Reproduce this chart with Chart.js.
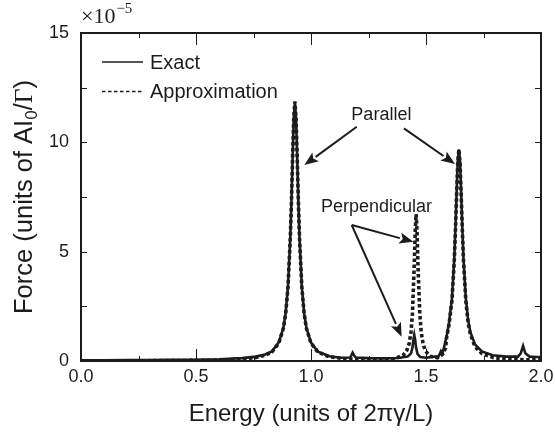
<!DOCTYPE html>
<html lang="en">
  <head>
    <meta charset="utf-8">
    <title>Force spectrum</title>
    <script src="https://cdn.jsdelivr.net/npm/chart.js@4.4.1/dist/chart.umd.min.js"></script>
    <style>
      html, body { margin: 0; padding: 0; background: #fff; }
    </style>
  </head>
  <body>
    <canvas id="myChart" width="555" height="433"></canvas>
    <script>
      // exact force (x 1e-5), energy in units of 2*pi*gamma/L
      const energyExact = [
        0.00, 0.10, 0.20, 0.30, 0.40, 0.50, 0.60, 0.70, 0.76, 0.80,
        0.83, 0.86, 0.88, 0.89, 0.90, 0.91, 0.915, 0.92, 0.925, 0.93,
        0.935, 0.94, 0.945, 0.95, 0.96, 0.97, 0.98, 1.00, 1.03, 1.08,
        1.13, 1.17, 1.175, 1.181, 1.187, 1.195, 1.25, 1.32, 1.38, 1.42,
        1.435, 1.441, 1.445, 1.449, 1.453, 1.457, 1.463, 1.475, 1.50, 1.54,
        1.555, 1.565, 1.572, 1.58, 1.59, 1.60, 1.613, 1.623, 1.628, 1.633,
        1.638, 1.643, 1.648, 1.653, 1.658, 1.663, 1.673, 1.683, 1.693, 1.713,
        1.743, 1.79, 1.85, 1.90, 1.912, 1.922, 1.932, 1.95, 1.98, 2.00
      ];
      const forceExact = [
        0.03, 0.03, 0.04, 0.04, 0.05, 0.06, 0.08, 0.13, 0.20, 0.30,
        0.44, 0.85, 1.52, 2.20, 3.42, 5.65, 7.30, 9.29, 11.09, 11.86,
        11.09, 9.29, 7.31, 5.65, 3.42, 2.20, 1.52, 0.84, 0.43, 0.22,
        0.15, 0.16, 0.25, 0.38, 0.26, 0.16, 0.13, 0.12, 0.14, 0.20,
        0.35, 0.60, 0.95, 1.19, 0.95, 0.60, 0.33, 0.18, 0.15, 0.20,
        0.22, 0.45, 0.35, 0.70, 1.15, 1.75, 2.87, 4.70, 6.07, 7.68,
        9.15, 9.68, 9.15, 7.68, 6.07, 4.70, 2.87, 1.88, 1.32, 0.76,
        0.44, 0.26, 0.20, 0.20, 0.35, 0.69, 0.35, 0.20, 0.18, 0.18
      ];

      // approximate force
      const energyApprox = [
        0.00, 0.20, 0.40, 0.60, 0.70, 0.76, 0.80, 0.83, 0.86, 0.88,
        0.89, 0.90, 0.91, 0.915, 0.92, 0.925, 0.93, 0.935, 0.94, 0.945,
        0.95, 0.96, 0.97, 0.98, 1.00, 1.03, 1.08, 1.15, 1.25, 1.35,
        1.40, 1.417, 1.427, 1.435, 1.441, 1.449, 1.453, 1.457, 1.461, 1.465,
        1.473, 1.479, 1.487, 1.497, 1.517, 1.55, 1.565, 1.575, 1.585, 1.59,
        1.60, 1.613, 1.623, 1.628, 1.633, 1.638, 1.643, 1.648, 1.653, 1.658,
        1.663, 1.673, 1.683, 1.693, 1.713, 1.743, 1.79, 1.85, 1.95, 2.00
      ];
      const forceApprox = [
        0.01, 0.01, 0.02, 0.04, 0.09, 0.16, 0.26, 0.41, 0.82, 1.50,
        2.18, 3.40, 5.63, 7.30, 9.29, 11.09, 11.86, 11.09, 9.29, 7.31,
        5.63, 3.40, 2.18, 1.50, 0.81, 0.41, 0.19, 0.10, 0.06, 0.07,
        0.25, 0.50, 0.80, 1.34, 2.16, 4.40, 5.94, 6.72, 5.94, 4.40,
        2.16, 1.34, 0.80, 0.47, 0.22, 0.15, 0.25, 0.35, 0.60, 1.10,
        1.65, 2.77, 4.60, 5.97, 7.58, 9.05, 9.68, 9.05, 7.58, 5.97,
        4.60, 2.77, 1.78, 1.22, 0.66, 0.34, 0.16, 0.08, 0.05, 0.05
      ];

      const seriesNames = ['Exact', 'Approximation'];
      const xTickValues = [0, 0.5, 1.0, 1.5, 2.0];
      const yTickValues = [0, 5, 10, 15];

      // labels with arrows, in data units [energy, force]
      const noteLabels = ['Parallel', 'Perpendicular'];
      const notePos = [[1.306, 11.27], [1.285, 7.04]];
      const arrowFrom = [[1.199, 10.71], [1.404, 10.64], [1.177, 6.22], [1.177, 6.22]];
      const arrowTo = [[0.971, 8.96], [1.626, 9.01], [1.445, 5.45], [1.394, 1.11]];

      const INK = '#1c1c1c';
      const SANS = '"Liberation Sans", Arial, Helvetica, sans-serif';
      const SERIF = '"Liberation Serif", "Times New Roman", serif';

      function toPoints(xs, ys) {
        const pts = [];
        for (let i = 0; i < xs.length; i++) pts.push({x: xs[i], y: ys[i]});
        return pts;
      }

      function arrow(ctx, x0, y0, x1, y1) {
        const ang = Math.atan2(y1 - y0, x1 - x0);
        const hl = 14, hw = 5.5;
        const bx = x1 - hl * Math.cos(ang), by = y1 - hl * Math.sin(ang);
        ctx.beginPath();
        ctx.moveTo(x0, y0);
        ctx.lineTo(bx, by);
        ctx.stroke();
        ctx.beginPath();
        ctx.moveTo(x1, y1);
        ctx.lineTo(bx + hw * Math.sin(ang), by - hw * Math.cos(ang));
        ctx.lineTo(bx + 3 * Math.cos(ang), by + 3 * Math.sin(ang));
        ctx.lineTo(bx - hw * Math.sin(ang), by + hw * Math.cos(ang));
        ctx.closePath();
        ctx.fill();
      }

      // frame, inward ticks, legend, notes and axis titles
      const decorations = {
        id: 'decorations',
        afterDraw(chart) {
          const ctx = chart.ctx;
          const xs = chart.scales.x, ys = chart.scales.y;
          const a = chart.chartArea;
          ctx.save();
          ctx.strokeStyle = INK;
          ctx.fillStyle = INK;

          // ticks
          ctx.lineWidth = 1;
          for (let v = 0; v <= 2.0001; v += 0.25) {
            const px = Math.round(xs.getPixelForValue(v)) + 0.5;
            const len = (Math.abs(v * 2 - Math.round(v * 2)) < 1e-6) ? 12 : 5;
            ctx.beginPath();
            ctx.moveTo(px, a.bottom); ctx.lineTo(px, a.bottom - len);
            ctx.moveTo(px, a.top); ctx.lineTo(px, a.top + len);
            ctx.stroke();
          }
          for (let v = 0; v <= 15.0001; v += 2.5) {
            const py = Math.round(ys.getPixelForValue(v)) + 0.5;
            ctx.beginPath();
            ctx.moveTo(a.left, py); ctx.lineTo(a.left + 6, py);
            ctx.moveTo(a.right, py); ctx.lineTo(a.right - 6, py);
            ctx.stroke();
          }

          // frame
          ctx.lineWidth = 2;
          ctx.strokeRect(a.left, a.top, a.right - a.left, a.bottom - a.top);

          // legend
          const lx = a.left + 21;
          ctx.lineWidth = 1.6;
          ctx.beginPath();
          ctx.moveTo(lx, a.top + 29); ctx.lineTo(lx + 41, a.top + 29);
          ctx.stroke();
          ctx.setLineDash([3.5, 2.5]);
          ctx.beginPath();
          ctx.moveTo(lx, a.top + 58.5); ctx.lineTo(lx + 40, a.top + 58.5);
          ctx.stroke();
          ctx.setLineDash([]);
          ctx.font = '20px ' + SANS;
          ctx.textAlign = 'left';
          ctx.textBaseline = 'alphabetic';
          ctx.fillText(seriesNames[0], lx + 48, a.top + 35.5);
          ctx.fillText(seriesNames[1], lx + 48, a.top + 64.5);

          // notes and arrows
          ctx.font = '18px ' + SANS;
          ctx.textAlign = 'center';
          ctx.textBaseline = 'middle';
          for (let i = 0; i < noteLabels.length; i++) {
            ctx.fillText(noteLabels[i], xs.getPixelForValue(notePos[i][0]), ys.getPixelForValue(notePos[i][1]));
          }
          ctx.lineWidth = 2;
          for (let i = 0; i < arrowFrom.length; i++) {
            arrow(ctx,
              xs.getPixelForValue(arrowFrom[i][0]), ys.getPixelForValue(arrowFrom[i][1]),
              xs.getPixelForValue(arrowTo[i][0]), ys.getPixelForValue(arrowTo[i][1]));
          }

          // exponent above the y axis
          ctx.textAlign = 'left';
          ctx.textBaseline = 'alphabetic';
          ctx.font = '22px ' + SERIF;
          ctx.fillText('\u00d710', a.left, 23);
          const w10 = ctx.measureText('\u00d710').width;
          ctx.font = '15px ' + SERIF;
          ctx.fillText('\u22125', a.left + w10 + 1, 13);

          // x title
          ctx.font = '24px ' + SANS;
          ctx.textAlign = 'center';
          ctx.fillText('Energy (units of 2\u03c0\u03b3/L)', (a.left + a.right) / 2, 421);

          // y title with subscript
          const parts = [
            ['Force (units of AI', '25.5px ' + SANS, 0],
            ['0', '17px ' + SANS, 5],
            ['/', '25.5px ' + SANS, 0],
            ['\u0393', '25.5px ' + SERIF, 0],
            [')', '25.5px ' + SANS, 0]
          ];
          let total = 0;
          for (const p of parts) { ctx.font = p[1]; total += ctx.measureText(p[0]).width; }
          ctx.translate(32, (a.top + a.bottom) / 2);
          ctx.rotate(-Math.PI / 2);
          ctx.textAlign = 'left';
          let cx = -total / 2;
          for (const p of parts) {
            ctx.font = p[1];
            ctx.fillText(p[0], cx, p[2]);
            cx += ctx.measureText(p[0]).width;
          }
          ctx.restore();
        }
      };

      new Chart(document.getElementById('myChart'), {
        type: 'line',
        data: {
          datasets: [
            {
              label: seriesNames[0],
              data: toPoints(energyExact, forceExact),
              borderColor: INK,
              borderWidth: 2.6,
              pointRadius: 0,
              tension: 0,
              order: 2
            },
            {
              label: seriesNames[1],
              data: toPoints(energyApprox, forceApprox),
              borderColor: INK,
              borderWidth: 3.6,
              borderDash: [3.5, 2.5],
              pointRadius: 0,
              tension: 0,
              order: 1
            }
          ]
        },
        options: {
          responsive: false,
          animation: false,
          devicePixelRatio: 1,
          layout: { padding: { top: 33, right: 14, left: 0, bottom: 0 } },
          plugins: {
            legend: { display: false },
            tooltip: { enabled: false }
          },
          scales: {
            x: {
              type: 'linear',
              min: 0, max: 2,
              afterFit: s => { s.height = 72; s.paddingLeft = 0; s.paddingRight = 0; },
              afterBuildTicks: s => { s.ticks = xTickValues.map(v => ({value: v})); },
              grid: { display: false, drawTicks: false },
              border: { display: false },
              ticks: {
                padding: 5,
                color: INK,
                font: { family: SANS, size: 18 },
                callback: v => Number(v).toFixed(1)
              }
            },
            y: {
              min: 0, max: 15,
              afterFit: s => { s.width = 81; s.paddingTop = 0; s.paddingBottom = 0; },
              afterBuildTicks: s => { s.ticks = yTickValues.map(v => ({value: v})); },
              grid: { display: false, drawTicks: false },
              border: { display: false },
              ticks: {
                padding: 12,
                color: INK,
                font: { family: SANS, size: 18 }
              }
            }
          }
        },
        plugins: [decorations]
      });
    </script>
  </body>
</html>
